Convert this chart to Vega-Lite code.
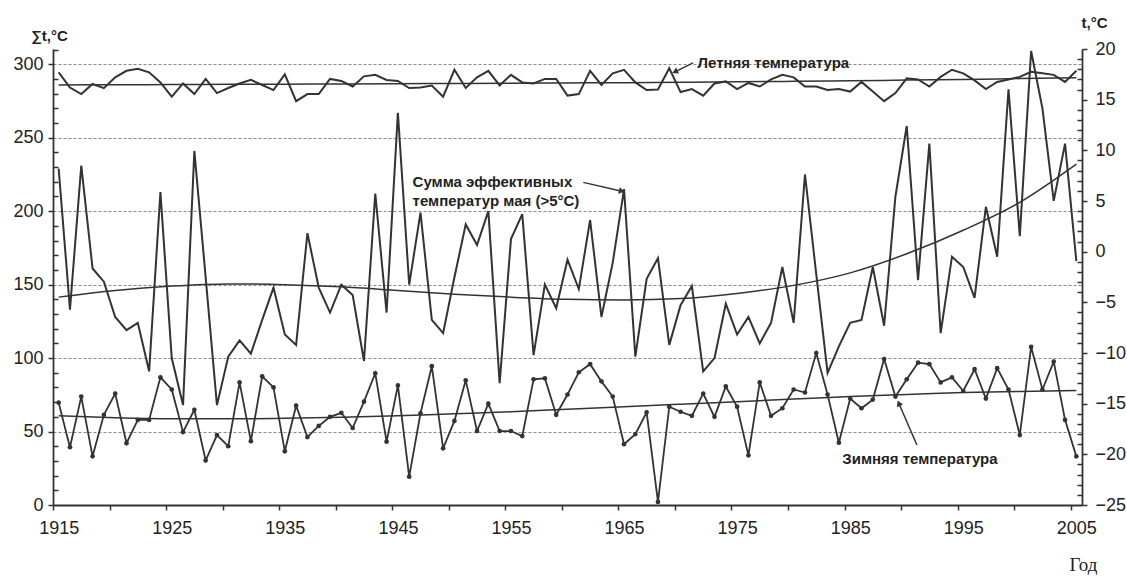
{
  "$schema": "https://vega.github.io/schema/vega-lite/v6.json",
  "width": 1029,
  "height": 456,
  "autosize": {"type": "none"},
  "padding": {"left": 53, "top": 49, "right": 45, "bottom": 74},
  "background": "white",
  "config": {
    "view": {"stroke": null},
    "axis": {
      "labelFont": "Liberation Sans",
      "titleFont": "Liberation Sans",
      "labelColor": "#222222",
      "titleColor": "#222222",
      "domainColor": "#333333",
      "tickColor": "#333333",
      "domainWidth": 1.8,
      "tickWidth": 1.5,
      "labelOverlap": false,
      "labelBound": false,
      "labelFlush": false
    }
  },
  "datasets": {
    "series": [
      {"year":1915,"summer":17.7,"may":229,"winter":-14.9},
      {"year":1916,"summer":16.2,"may":133,"winter":-19.3},
      {"year":1917,"summer":15.55,"may":231,"winter":-14.3},
      {"year":1918,"summer":16.55,"may":161,"winter":-20.2},
      {"year":1919,"summer":16.13,"may":152,"winter":-16.1},
      {"year":1920,"summer":17.2,"may":128,"winter":-14.0},
      {"year":1921,"summer":17.85,"may":119,"winter":-18.9},
      {"year":1922,"summer":18.05,"may":124,"winter":-16.6},
      {"year":1923,"summer":17.7,"may":91,"winter":-16.6},
      {"year":1924,"summer":16.7,"may":213,"winter":-12.4},
      {"year":1925,"summer":15.3,"may":100,"winter":-13.6},
      {"year":1926,"summer":16.6,"may":68,"winter":-17.8},
      {"year":1927,"summer":15.55,"may":241,"winter":-15.6},
      {"year":1928,"summer":17.05,"may":155,"winter":-20.6},
      {"year":1929,"summer":15.65,"may":68,"winter":-18.1},
      {"year":1930,"summer":16.15,"may":101,"winter":-19.2},
      {"year":1931,"summer":16.6,"may":112,"winter":-12.9},
      {"year":1932,"summer":16.95,"may":103,"winter":-18.7},
      {"year":1933,"summer":16.45,"may":126,"winter":-12.3},
      {"year":1934,"summer":15.95,"may":148,"winter":-13.4},
      {"year":1935,"summer":17.5,"may":116,"winter":-19.7},
      {"year":1936,"summer":14.85,"may":109,"winter":-15.2},
      {"year":1937,"summer":15.55,"may":185,"winter":-18.3},
      {"year":1938,"summer":15.55,"may":148,"winter":-17.2},
      {"year":1939,"summer":17.05,"may":131,"winter":-16.3},
      {"year":1940,"summer":16.85,"may":150,"winter":-15.9},
      {"year":1941,"summer":16.3,"may":143,"winter":-17.4},
      {"year":1942,"summer":17.3,"may":98,"winter":-14.8},
      {"year":1943,"summer":17.45,"may":212,"winter":-12.0},
      {"year":1944,"summer":16.95,"may":131,"winter":-18.75},
      {"year":1945,"summer":16.85,"may":267,"winter":-13.2},
      {"year":1946,"summer":16.15,"may":150,"winter":-22.2},
      {"year":1947,"summer":16.2,"may":199,"winter":-15.95},
      {"year":1948,"summer":16.4,"may":126,"winter":-11.3},
      {"year":1949,"summer":15.3,"may":117,"winter":-19.4},
      {"year":1950,"summer":17.95,"may":155,"winter":-16.7},
      {"year":1951,"summer":16.15,"may":191,"winter":-12.7},
      {"year":1952,"summer":17.2,"may":177,"winter":-17.7},
      {"year":1953,"summer":17.85,"may":200,"winter":-15.0},
      {"year":1954,"summer":16.4,"may":83,"winter":-17.7},
      {"year":1955,"summer":17.45,"may":181,"winter":-17.7},
      {"year":1956,"summer":16.7,"may":198,"winter":-18.2},
      {"year":1957,"summer":16.6,"may":102,"winter":-12.6},
      {"year":1958,"summer":17.05,"may":150,"winter":-12.5},
      {"year":1959,"summer":17.05,"may":134,"winter":-16.1},
      {"year":1960,"summer":15.4,"may":167,"winter":-14.1},
      {"year":1961,"summer":15.55,"may":147,"winter":-11.9},
      {"year":1962,"summer":17.85,"may":194,"winter":-11.1},
      {"year":1963,"summer":16.45,"may":128,"winter":-12.8},
      {"year":1964,"summer":17.6,"may":165,"winter":-14.3},
      {"year":1965,"summer":17.95,"may":215,"winter":-19.0},
      {"year":1966,"summer":16.7,"may":101,"winter":-18.0},
      {"year":1967,"summer":15.95,"may":154,"winter":-15.85},
      {"year":1968,"summer":16.0,"may":168,"winter":-24.7},
      {"year":1969,"summer":18.1,"may":109,"winter":-15.3},
      {"year":1970,"summer":15.75,"may":136,"winter":-15.8},
      {"year":1971,"summer":16.05,"may":149,"winter":-16.2},
      {"year":1972,"summer":15.4,"may":91,"winter":-14.0},
      {"year":1973,"summer":16.6,"may":100,"winter":-16.3},
      {"year":1974,"summer":16.8,"may":137,"winter":-13.3},
      {"year":1975,"summer":16.05,"may":116,"winter":-15.3},
      {"year":1976,"summer":16.65,"may":128,"winter":-20.1},
      {"year":1977,"summer":16.3,"may":110,"winter":-12.9},
      {"year":1978,"summer":17.0,"may":124,"winter":-16.2},
      {"year":1979,"summer":17.45,"may":162,"winter":-15.45},
      {"year":1980,"summer":17.2,"may":124,"winter":-13.6},
      {"year":1981,"summer":16.3,"may":225,"winter":-13.9},
      {"year":1982,"summer":16.3,"may":157,"winter":-10.0},
      {"year":1983,"summer":15.95,"may":90,"winter":-14.1},
      {"year":1984,"summer":16.05,"may":108,"winter":-18.85},
      {"year":1985,"summer":15.8,"may":124,"winter":-14.5},
      {"year":1986,"summer":16.75,"may":126,"winter":-15.45},
      {"year":1987,"summer":15.8,"may":162,"winter":-14.6},
      {"year":1988,"summer":14.85,"may":122,"winter":-10.6},
      {"year":1989,"summer":15.65,"may":210,"winter":-14.3},
      {"year":1990,"summer":17.1,"may":258,"winter":-12.6},
      {"year":1991,"summer":17.0,"may":153,"winter":-10.95},
      {"year":1992,"summer":16.3,"may":246,"winter":-11.1},
      {"year":1993,"summer":17.25,"may":117,"winter":-12.9},
      {"year":1994,"summer":17.95,"may":169,"winter":-12.4},
      {"year":1995,"summer":17.6,"may":162,"winter":-13.75},
      {"year":1996,"summer":16.9,"may":141,"winter":-11.6},
      {"year":1997,"summer":16.05,"may":203,"winter":-14.5},
      {"year":1998,"summer":16.75,"may":169,"winter":-11.5},
      {"year":1999,"summer":17.0,"may":283,"winter":-13.6},
      {"year":2000,"summer":17.25,"may":183,"winter":-18.1},
      {"year":2001,"summer":17.75,"may":309,"winter":-9.4},
      {"year":2002,"summer":17.6,"may":270,"winter":-13.6},
      {"year":2003,"summer":17.45,"may":207,"winter":-10.85},
      {"year":2004,"summer":16.75,"may":246,"winter":-16.6},
      {"year":2005,"summer":17.85,"may":166,"winter":-20.2}
    ],
    "trend": [
      {"year":1915,"summerTrend":16.45,"mayTrend":141.5,"winterTrend":-16.2},
      {"year":1920,"summerTrend":16.47,"mayTrend":146,"winterTrend":-16.4},
      {"year":1925,"summerTrend":16.49,"mayTrend":149,"winterTrend":-16.5},
      {"year":1930,"summerTrend":16.51,"mayTrend":150.5,"winterTrend":-16.5},
      {"year":1935,"summerTrend":16.53,"mayTrend":150,"winterTrend":-16.45},
      {"year":1940,"summerTrend":16.55,"mayTrend":148.5,"winterTrend":-16.35},
      {"year":1945,"summerTrend":16.57,"mayTrend":146,"winterTrend":-16.2},
      {"year":1950,"summerTrend":16.6,"mayTrend":143.5,"winterTrend":-16.0},
      {"year":1955,"summerTrend":16.62,"mayTrend":141.5,"winterTrend":-15.8},
      {"year":1960,"summerTrend":16.65,"mayTrend":140,"winterTrend":-15.55},
      {"year":1965,"summerTrend":16.68,"mayTrend":139.5,"winterTrend":-15.3},
      {"year":1970,"summerTrend":16.72,"mayTrend":140.5,"winterTrend":-15.05},
      {"year":1975,"summerTrend":16.76,"mayTrend":144,"winterTrend":-14.8},
      {"year":1980,"summerTrend":16.81,"mayTrend":149.5,"winterTrend":-14.55},
      {"year":1985,"summerTrend":16.87,"mayTrend":158,"winterTrend":-14.3},
      {"year":1990,"summerTrend":16.93,"mayTrend":171,"winterTrend":-14.1},
      {"year":1995,"summerTrend":17.0,"mayTrend":187,"winterTrend":-13.9},
      {"year":2000,"summerTrend":17.08,"mayTrend":206,"winterTrend":-13.8},
      {"year":2005,"summerTrend":17.17,"mayTrend":232,"winterTrend":-13.7}
    ],
    "labelsLeft": [
      {"year":1946.3,"v":219.6,"text":"Сумма эффективных"},
      {"year":1946.3,"v":206.6,"text":"температур мая (>5°C)"}
    ],
    "arrowLeft": [
      {"year":1961.4,"v":219.6,"year2":1964.8,"v2":213.6}
    ],
    "labelsRight": [
      {"year":1971.5,"v":18.6,"text":"Летняя температура"},
      {"year":1984.3,"v":-20.46,"text":"Зимняя температура"}
    ],
    "arrowSummer": [
      {"year":1971.1,"v":18.63,"year2":1969.5,"v2":17.75}
    ],
    "arrowWinter": [
      {"year":1990.9,"v":-19.08,"year2":1989.3,"v2":-14.96}
    ]
  },
  "encoding": {
    "x": {
      "field": "year",
      "type": "quantitative",
      "scale": {"domain": [1914.5, 2005.5], "nice": false, "zero": false},
      "axis": {
        "values": [1914.5,1919.5,1924.5,1929.5,1934.5,1939.5,1944.5,1949.5,1954.5,1959.5,1964.5,1969.5,1974.5,1979.5,1984.5,1989.5,1994.5,1999.5,2004.5],
        "labelExpr": "(datum.value - 1914.5) % 10 === 0 ? format(datum.value + 0.5, 'd') : ''",
        "labelOffset": 5.66,
        "tickSize": 5,
        "labelPadding": 9,
        "labelFontSize": 18,
        "grid": false,
        "title": "Год",
        "titleFont": "Liberation Serif",
        "titleFontSize": 19,
        "titleFontWeight": "normal",
        "titleAlign": "center",
        "titleBaseline": "alphabetic",
        "titleX": 1030,
        "titleY": 65
      }
    }
  },
  "layer": [
    {
      "resolve": {"axis": {"y": "independent"}},
      "layer": [
        {
          "data": {"name": "series"},
          "mark": {"type": "line", "color": "#333333", "strokeWidth": 2},
          "encoding": {
            "y": {
              "field": "may",
              "type": "quantitative",
              "scale": {"domain": [0, 310.4], "nice": false, "zero": false},
              "axis": {
                "orient": "left",
                "values": [0, 50, 100, 150, 200, 250, 300],
                "tickSize": 5,
                "labelPadding": 5,
                "labelFontSize": 18,
                "grid": true,
                "gridColor": "#8a8a8a",
                "gridDash": [3, 2],
                "gridWidth": 1.2,
                "title": "∑t,°C",
                "titleAngle": 0,
                "titleAlign": "center",
                "titleBaseline": "alphabetic",
                "titleFontSize": 15,
                "titleFontWeight": "bold",
                "titleX": -4,
                "titleY": -9
              }
            }
          }
        },
        {
          "data": {"name": "trend"},
          "mark": {"type": "line", "color": "#333333", "strokeWidth": 1.5, "interpolate": "monotone"},
          "encoding": {
            "y": {
              "field": "mayTrend",
              "type": "quantitative",
              "scale": {"domain": [0, 310.4], "nice": false, "zero": false},
              "axis": {
                "orient": "left",
                "values": [10,20,30,40,60,70,80,90,110,120,130,140,160,170,180,190,210,220,230,240,260,270,280,290,310],
                "tickSize": -5,
                "labels": false,
                "domain": false,
                "grid": false,
                "title": null
              }
            }
          }
        },
        {
          "data": {"name": "labelsLeft"},
          "mark": {"type": "text", "align": "left", "baseline": "middle", "font": "Liberation Sans", "fontSize": 15, "fontWeight": "bold", "color": "#222222"},
          "encoding": {
            "y": {"field": "v", "type": "quantitative", "scale": {"domain": [0, 310.4], "nice": false, "zero": false}, "axis": null},
            "text": {"field": "text"}
          }
        },
        {
          "data": {"name": "arrowLeft"},
          "mark": {"type": "rule", "color": "#333333", "strokeWidth": 1.5},
          "encoding": {
            "y": {"field": "v", "type": "quantitative", "scale": {"domain": [0, 310.4], "nice": false, "zero": false}, "axis": null},
            "x2": {"field": "year2"},
            "y2": {"field": "v2"}
          }
        },
        {
          "data": {"name": "arrowLeft"},
          "mark": {"type": "point", "shape": "triangle-up", "filled": true, "size": 45, "angle": 103, "color": "#333333", "opacity": 1},
          "encoding": {
            "x": {"field": "year2", "type": "quantitative", "scale": {"domain": [1914.5, 2005.5], "nice": false, "zero": false}},
            "y": {"field": "v2", "type": "quantitative", "scale": {"domain": [0, 310.4], "nice": false, "zero": false}, "axis": null}
          }
        }
      ]
    },
    {
      "resolve": {"axis": {"y": "independent"}},
      "layer": [
        {
          "data": {"name": "series"},
          "mark": {"type": "line", "color": "#333333", "strokeWidth": 2},
          "encoding": {
            "y": {
              "field": "summer",
              "type": "quantitative",
              "scale": {"domain": [-25, 20], "nice": false, "zero": false},
              "axis": {
                "orient": "right",
                "values": [-25, -20, -15, -10, -5, 0, 5, 10, 15, 20],
                "tickSize": 5,
                "labelPadding": 8,
                "labelFontSize": 18,
                "grid": false,
                "title": "t,°C",
                "titleAngle": 0,
                "titleAlign": "center",
                "titleBaseline": "alphabetic",
                "titleFontSize": 15,
                "titleFontWeight": "bold",
                "titleX": 12,
                "titleY": -22
              }
            }
          }
        },
        {
          "data": {"name": "trend"},
          "mark": {"type": "line", "color": "#333333", "strokeWidth": 1.5, "interpolate": "monotone"},
          "encoding": {
            "y": {
              "field": "summerTrend",
              "type": "quantitative",
              "scale": {"domain": [-25, 20], "nice": false, "zero": false},
              "axis": {
                "orient": "right",
                "values": [-24,-23,-22,-21,-19,-18,-17,-16,-14,-13,-12,-11,-9,-8,-7,-6,-4,-3,-2,-1,1,2,3,4,6,7,8,9,11,12,13,14,16,17,18,19],
                "tickSize": -5,
                "labels": false,
                "domain": false,
                "grid": false,
                "title": null
              }
            }
          }
        },
        {
          "data": {"name": "series"},
          "mark": {"type": "line", "color": "#333333", "strokeWidth": 1.8, "point": {"filled": true, "size": 22, "color": "#333333"}},
          "encoding": {
            "y": {"field": "winter", "type": "quantitative", "scale": {"domain": [-25, 20], "nice": false, "zero": false}, "axis": null}
          }
        },
        {
          "data": {"name": "trend"},
          "mark": {"type": "line", "color": "#333333", "strokeWidth": 1.5, "interpolate": "monotone"},
          "encoding": {
            "y": {"field": "winterTrend", "type": "quantitative", "scale": {"domain": [-25, 20], "nice": false, "zero": false}, "axis": null}
          }
        },
        {
          "data": {"name": "labelsRight"},
          "mark": {"type": "text", "align": "left", "baseline": "middle", "font": "Liberation Sans", "fontSize": 15, "fontWeight": "bold", "color": "#222222"},
          "encoding": {
            "y": {"field": "v", "type": "quantitative", "scale": {"domain": [-25, 20], "nice": false, "zero": false}, "axis": null},
            "text": {"field": "text"}
          }
        },
        {
          "data": {"name": "arrowSummer"},
          "mark": {"type": "rule", "color": "#333333", "strokeWidth": 1.5},
          "encoding": {
            "y": {"field": "v", "type": "quantitative", "scale": {"domain": [-25, 20], "nice": false, "zero": false}, "axis": null},
            "x2": {"field": "year2"},
            "y2": {"field": "v2"}
          }
        },
        {
          "data": {"name": "arrowSummer"},
          "mark": {"type": "point", "shape": "triangle-up", "filled": true, "size": 45, "angle": 245, "color": "#333333", "opacity": 1},
          "encoding": {
            "x": {"field": "year2", "type": "quantitative", "scale": {"domain": [1914.5, 2005.5], "nice": false, "zero": false}},
            "y": {"field": "v2", "type": "quantitative", "scale": {"domain": [-25, 20], "nice": false, "zero": false}, "axis": null}
          }
        },
        {
          "data": {"name": "arrowWinter"},
          "mark": {"type": "rule", "color": "#333333", "strokeWidth": 1.5},
          "encoding": {
            "y": {"field": "v", "type": "quantitative", "scale": {"domain": [-25, 20], "nice": false, "zero": false}, "axis": null},
            "x2": {"field": "year2"},
            "y2": {"field": "v2"}
          }
        },
        {
          "data": {"name": "arrowWinter"},
          "mark": {"type": "point", "shape": "triangle-up", "filled": true, "size": 45, "angle": 336, "color": "#333333", "opacity": 1},
          "encoding": {
            "x": {"field": "year2", "type": "quantitative", "scale": {"domain": [1914.5, 2005.5], "nice": false, "zero": false}},
            "y": {"field": "v2", "type": "quantitative", "scale": {"domain": [-25, 20], "nice": false, "zero": false}, "axis": null}
          }
        }
      ]
    }
  ],
  "resolve": {"scale": {"y": "independent"}}
}
